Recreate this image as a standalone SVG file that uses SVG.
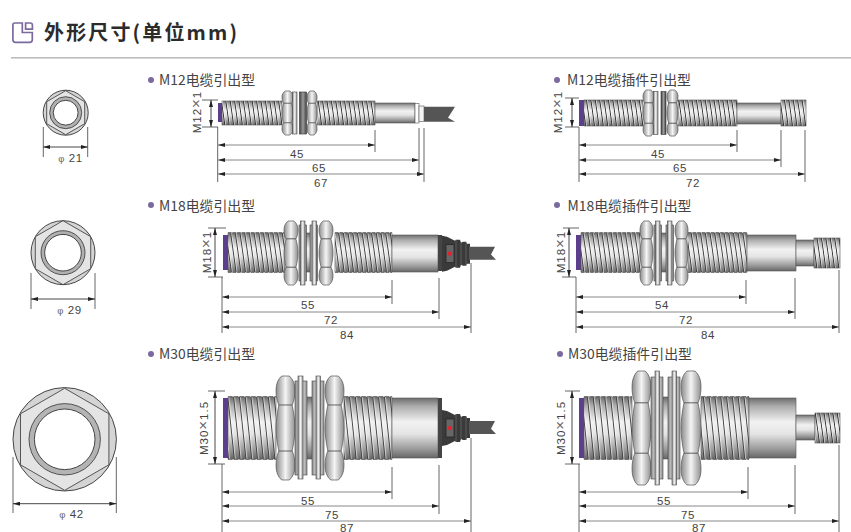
<svg xmlns="http://www.w3.org/2000/svg" xmlns:xlink="http://www.w3.org/1999/xlink" width="851" height="532" viewBox="0 0 851 532">
<style>
text{font-family:"Liberation Sans",Arial,sans-serif;fill:#444}
.cjk{font-family:"Noto Sans CJK SC","Noto Sans",sans-serif}
.title{font-size:20px;font-weight:700;fill:#2b2b2b;letter-spacing:2.15px}
.sub{font-size:13.9px;fill:#444}
.dimt{font-size:11.5px;text-anchor:middle;letter-spacing:.6px}
.rot{font-size:11.5px;text-anchor:middle;letter-spacing:1px}
.x{font-size:15px;fill:#666}
.ph{font-size:9.5px;fill:#666}
.bul{fill:#7b6aa0}
.pur{fill:#5b3f8c}
.m{fill:url(#metal);stroke:#555;stroke-width:.6}
.w{fill:url(#hm);stroke:#444;stroke-width:.6}
.wd{fill:url(#hd);stroke:#333;stroke-width:.6}
.t4{fill:url(#p4)}
.t5{fill:url(#p5)}
.t6{fill:url(#p6)}
.b{stroke:#777;stroke-width:1.4;stroke-dasharray:3.4 1.2;fill:none}
.dim{stroke:#888;stroke-width:1;fill:none;marker-start:url(#ah);marker-end:url(#ah)}
.ext{stroke:#555;stroke-width:.9;fill:none}
.vdim{stroke:#333;stroke-width:.9;fill:none;marker-start:url(#ah);marker-end:url(#ah)}
.lobe{fill:url(#hm);stroke:#555;stroke-width:.7;vector-effect:non-scaling-stroke}
</style>
<defs>
<linearGradient id="metal" x1="0" y1="0" x2="0" y2="1"><stop offset="0" stop-color="#6e6e6e"/><stop offset=".14" stop-color="#adadad"/><stop offset=".4" stop-color="#f2f2f2"/><stop offset=".6" stop-color="#e4e4e4"/><stop offset=".86" stop-color="#979797"/><stop offset="1" stop-color="#666"/></linearGradient>
<linearGradient id="hm"><stop offset="0" stop-color="#8a8a8a"/><stop offset=".5" stop-color="#f5f5f5"/><stop offset="1" stop-color="#8f8f8f"/></linearGradient>
<linearGradient id="hd"><stop offset="0" stop-color="#444"/><stop offset=".5" stop-color="#9a9a9a"/><stop offset="1" stop-color="#444"/></linearGradient>
<pattern id="p4" width="4.4" height="40" patternUnits="userSpaceOnUse" patternTransform="skewX(8)"><rect width=".9" height="40" fill="#333"/><rect x=".9" width=".9" height="40" fill="#fff" fill-opacity=".55"/></pattern>
<pattern id="p5" width="4.7" height="60" patternUnits="userSpaceOnUse" patternTransform="skewX(8)"><rect width=".9" height="60" fill="#333"/><rect x=".9" width="1" height="60" fill="#fff" fill-opacity=".55"/></pattern>
<pattern id="p6" width="5.8" height="80" patternUnits="userSpaceOnUse" patternTransform="skewX(6)"><rect width=".9" height="80" fill="#333"/><rect x=".9" width="1.2" height="80" fill="#fff" fill-opacity=".55"/></pattern>
<marker id="ah" viewBox="0 0 7 4" refX="7" refY="2" markerWidth="7" markerHeight="4" markerUnits="userSpaceOnUse" orient="auto-start-reverse"><path d="M0 0L7 2L0 4Z" fill="#222"/></marker>
<g id="nut">
<path class="lobe" d="M3 28C1 24 0 19 0 14C0 8 2 3 6 0H14C18 3 20 8 20 14C20 19 19 24 17 28Z"/>
<path class="lobe" d="M3 72C1 76 0 81 0 86C0 92 2 97 6 100H14C18 97 20 92 20 86C20 81 19 76 17 72Z"/>
<path class="lobe" d="M3 28H17C19 36 20 44 20 50C20 56 19 64 17 72H3C1 64 0 56 0 50C0 44 1 36 3 28Z"/>
</g>
<g id="gland">
<path d="M0 -18L5 -17L13 -13L14 -14L18 -14L19 -11L21 -12L24 -12L25 -10L28 -10V10L25 10L24 12L21 12L19 11L18 14L14 14L13 13L5 17L0 18Z" fill="#3a3a3a"/>
<path d="M14 -14V14M19 -11V11M24 -12V12" stroke="#777" stroke-width=".6"/>
<path d="M27 -7H53L49 .7L54 6H27Z" fill="#555"/>
<rect x="4" y="-9" width="8" height="18" fill="#666" stroke="#222" stroke-width=".7"/>
<circle cx="7.7" r="2.1" fill="#e8202a"/>
</g>
</defs>
<rect width="851" height="532" fill="#fff"/>

<g id="header">
<path d="M14.8 23H22.3V32.5H32.3V39.8Q32.3 42.4 29.7 42.4H15.6Q12.9 42.4 12.9 39.8V25Q12.9 23 14.8 23ZM25.6 23H30.2Q32.4 23 32.4 25.2V29.2H25.6Z" fill="none" stroke="#7b6aa0" stroke-width="1.7"/>
<text class="title cjk" x="44" y="40">外形尺寸(单位mm)</text>
<rect x="11" y="57" width="840" height="1.6" fill="#bdbdbd"/>
</g>

<g id="end-21">
<circle cx="65.7" cy="112.7" r="22.5" fill="#d4d4d4" stroke="#333" stroke-width=".9"/>
<polygon points="65.7,90.7 84.7,101.7 84.7,123.7 65.7,134.7 46.7,123.7 46.7,101.7" fill="#e4e4e4" stroke="#333" stroke-width=".8"/>
<circle cx="65.7" cy="112.7" r="16" fill="#b0b0b0" stroke="#333" stroke-width=".8"/>
<circle cx="65.7" cy="112.7" r="12.4" fill="#fff" stroke="#333" stroke-width=".9"/>
<path class="ext" d="M43.3 127V157M87.7 127V157"/>
<path class="vdim" d="M43.3 147H87.7"/>
<text class="dimt" x="70.500" y="162"><tspan class="ph">φ</tspan> 21</text>
</g>
<g id="end-29">
<circle cx="63" cy="252.7" r="32" fill="#d4d4d4" stroke="#333" stroke-width=".9"/>
<polygon points="63,220.7 90.7,236.7 90.7,268.7 63,284.7 35.3,268.7 35.3,236.7" fill="#e4e4e4" stroke="#333" stroke-width=".8"/>
<circle cx="63" cy="252.7" r="22" fill="#b0b0b0" stroke="#333" stroke-width=".8"/>
<circle cx="63" cy="252.7" r="18.3" fill="#fff" stroke="#333" stroke-width=".9"/>
<path class="ext" d="M31 273V309M95 273V309"/>
<path class="vdim" d="M31 299H95"/>
<text class="dimt" x="69.500" y="314"><tspan class="ph">φ</tspan> 29</text>
</g>
<g id="end-42">
<circle cx="64.7" cy="439.3" r="51.7" fill="#d4d4d4" stroke="#333" stroke-width=".9"/>
<polygon points="64.7,388.3 108.9,413.8 108.9,464.8 64.7,490.3 20.5,464.8 20.5,413.8" fill="#e4e4e4" stroke="#333" stroke-width=".8"/>
<circle cx="64.7" cy="439.3" r="35.7" fill="#b4b4b4" stroke="#333" stroke-width=".8"/>
<circle cx="64.7" cy="439.3" r="30.3" fill="#fff" stroke="#333" stroke-width=".9"/>
<path class="ext" d="M13 457V513M116.3 457V513"/>
<path class="vdim" d="M13 503.7H116.3"/>
<text class="dimt" x="71.500" y="518"><tspan class="ph">φ</tspan> 42</text>
</g>

<g id="m12-cable">
<circle class="bul" cx="151" cy="80" r="3"/>
<text class="sub cjk" x="159" y="85">M12电缆引出型</text>
<rect class="pur" x="218" y="103" width="4" height="19"/>
<rect class="m" x="222" y="101" width="60" height="24"/><rect class="t4" x="222" y="101" width="60" height="24"/>
<rect class="m" x="317" y="101" width="58" height="24"/><rect class="t4" x="317" y="101" width="58" height="24"/>
<rect class="m" x="375" y="103" width="40" height="20"/>
<rect x="415" y="103.5" width="4" height="19.5" fill="#fff" stroke="#555" stroke-width=".6"/>
<rect x="419" y="106" width="5" height="15.5" fill="#f4f4f4" stroke="#555" stroke-width=".6"/>
<path d="M424 106.7H455L448 117.7L455 121.7H424Z" fill="#555"/>
<use href="#nut" transform="translate(282 91) scale(.55 .44)"/>
<rect class="w" x="292.500" y="92" width="4.500" height="42"/>
<rect class="wd" x="299.500" y="92" width="7" height="42"/>
<use href="#nut" transform="translate(307 91) scale(.5 .44)"/>
</g>
<g id="m12-plug">
<circle class="bul" cx="557" cy="80" r="3"/>
<text class="sub cjk" x="567" y="85">M12电缆插件引出型</text>
<rect class="pur" x="579" y="100" width="5" height="26"/>
<rect class="m" x="584" y="100" width="59" height="26"/><rect class="t4" x="584" y="100" width="59" height="26"/>
<rect class="m" x="678" y="100" width="59" height="26"/><rect class="t4" x="678" y="100" width="59" height="26"/>
<rect class="m" x="737" y="103" width="44" height="21"/>
<rect class="m" x="781" y="100" width="25" height="26"/><rect class="t4" x="781" y="100" width="25" height="26"/>
<use href="#nut" transform="translate(643 90) scale(.55 .46)"/>
<rect class="w" x="653.500" y="91.500" width="4.500" height="43"/>
<rect class="wd" x="661" y="91.500" width="5" height="43"/>
<use href="#nut" transform="translate(667 90) scale(.55 .46)"/>
</g>
<g id="m18-cable">
<circle class="bul" cx="151" cy="205" r="3"/>
<text class="sub cjk" x="159" y="211">M18电缆引出型</text>
<rect class="pur" x="223" y="235" width="5" height="35"/>
<rect class="m" x="228" y="233" width="57" height="39"/><rect class="t5" x="228" y="233" width="57" height="39"/>
<rect class="m" x="305" y="233" width="6" height="39"/>
<rect class="m" x="335" y="233" width="57" height="39"/><rect class="t5" x="335" y="233" width="57" height="39"/>
<path class="b" d="M228 232.800H285M335 232.800H392M228 272.200H285M335 272.200H392"/>
<rect class="m" x="392" y="235" width="46" height="37"/>
<rect x="438" y="235" width="4" height="36" fill="#444"/>
<use href="#gland" transform="translate(442 253.700)"/>
<use href="#nut" transform="translate(284 221) scale(.7 .64)"/>
<rect class="w" x="299" y="225" width="7.500" height="56"/><rect class="w" x="300.500" y="221" width="4.500" height="64"/>
<rect class="w" x="310" y="225" width="7.500" height="56"/><rect class="w" x="312" y="221" width="4.500" height="64"/>
<use href="#nut" transform="translate(319 221) scale(.7 .64)"/>
</g>
<g id="m18-plug">
<circle class="bul" cx="557" cy="205" r="3"/>
<text class="sub cjk" x="567.500" y="211">M18电缆插件引出型</text>
<rect class="pur" x="576" y="235" width="5" height="35"/>
<rect class="m" x="581" y="233" width="59" height="39"/><rect class="t5" x="581" y="233" width="59" height="39"/>
<rect class="m" x="660" y="233" width="7" height="39"/>
<rect class="m" x="688" y="233" width="59" height="39"/><rect class="t5" x="688" y="233" width="59" height="39"/>
<path class="b" d="M581 232.800H640M688 232.800H747M581 272.200H640M688 272.200H747"/>
<rect class="m" x="747" y="235" width="49" height="36"/>
<rect class="m" x="796" y="240" width="18" height="26"/>
<rect class="m" x="814" y="238" width="26" height="30"/><rect class="t4" x="814" y="238" width="26" height="30"/>
<use href="#nut" transform="translate(640 221) scale(.65 .64)"/>
<rect class="w" x="654" y="225" width="7.500" height="56"/><rect class="w" x="655.500" y="221" width="4.500" height="64"/>
<rect class="w" x="666" y="225" width="7.500" height="56"/><rect class="w" x="667.500" y="221" width="4.500" height="64"/>
<use href="#nut" transform="translate(675 221) scale(.65 .64)"/>
</g>
<g id="m30-cable">
<circle class="bul" cx="151" cy="354" r="3"/>
<text class="sub cjk" x="159" y="359">M30电缆引出型</text>
<rect class="pur" x="223" y="398" width="5" height="60"/>
<rect class="m" x="228" y="397" width="48" height="62"/><rect class="t6" x="228" y="397" width="48" height="62"/>
<rect class="m" x="306" y="397" width="7" height="62"/>
<rect class="m" x="344" y="397" width="48" height="62"/><rect class="t6" x="344" y="397" width="48" height="62"/>
<path class="b" style="stroke-dasharray:4.400 1.400" d="M228 396.600H276M344 396.600H392M228 459.400H276M344 459.400H392"/>
<rect class="m" x="392" y="398" width="46" height="60"/>
<rect x="438" y="398" width="4" height="60" fill="#444"/>
<use href="#gland" transform="translate(442 428)"/>
<use href="#nut" transform="translate(276 376) scale(.95 1.04)"/>
<rect class="w" x="295" y="381" width="12" height="94"/><rect class="w" x="298" y="376" width="5" height="103"/>
<rect class="w" x="312" y="381" width="12" height="94"/><rect class="w" x="316" y="376" width="4.500" height="103"/>
<use href="#nut" transform="translate(325 376) scale(.95 1.04)"/>
</g>
<g id="m30-plug">
<circle class="bul" cx="560" cy="354" r="3"/>
<text class="sub cjk" x="568" y="359">M30电缆插件引出型</text>
<rect class="pur" x="579" y="398" width="5" height="60"/>
<rect class="m" x="584" y="397" width="48" height="62"/><rect class="t6" x="584" y="397" width="48" height="62"/>
<rect class="m" x="662" y="397" width="7" height="62"/>
<rect class="m" x="701" y="397" width="48" height="62"/><rect class="t6" x="701" y="397" width="48" height="62"/>
<path class="b" style="stroke-dasharray:4.400 1.400" d="M584 396.600H632M701 396.600H749M584 459.400H632M701 459.400H749"/>
<rect class="m" x="749" y="398" width="47" height="60"/>
<rect class="m" x="796" y="415" width="19" height="25"/>
<rect class="m" x="815" y="413" width="25" height="30"/><rect class="t4" x="815" y="413" width="25" height="30"/>
<use href="#nut" transform="translate(632 371) scale(.95 1.14)"/>
<rect class="w" x="651" y="377" width="12" height="102"/><rect class="w" x="655" y="371" width="4.500" height="114"/>
<rect class="w" x="668" y="377" width="12" height="102"/><rect class="w" x="672" y="371" width="4.500" height="114"/>
<use href="#nut" transform="translate(681 371) scale(1 1.14)"/>
</g>

<g id="connectors">
<path class="ext" d="M202 100H218M202 127H218M217.700 127V182M375 130V152M419 128V176M424 128V182"/>
<path class="vdim" d="M211 100V127"/>
<path class="dim" d="M218 145H375"/><path class="dim" d="M218 160H419"/><path class="dim" d="M218 174H424"/>
<path class="ext" d="M565 98H579M565 127H579M579 127V182M737 130V152M781 130V167M805 130V182"/>
<path class="vdim" d="M572 98V127"/>
<path class="dim" d="M579 145H737"/><path class="dim" d="M579 160H781"/><path class="dim" d="M579 174H805"/>
<path class="ext" d="M208 228H226M208 277H223M222 277V333M392 280V304M439 278V319M471 263V333"/>
<path class="vdim" d="M215 228V277"/>
<path class="dim" d="M222 297H392"/><path class="dim" d="M222 312H439"/><path class="dim" d="M222 327H471"/>
<path class="ext" d="M563 228H579M562 277H576M576 277V333M746 280V304M795 278V319M839 270V333"/>
<path class="vdim" d="M569 228V277"/>
<path class="dim" d="M576 297H746"/><path class="dim" d="M576 312H795"/><path class="dim" d="M576 327H839"/>
<path class="ext" d="M208 391H225M208 464H225M222 464V532M392 467V499M439 465V514M471 438V532"/>
<path class="vdim" d="M215 391V464"/>
<path class="dim" d="M222 492H392"/><path class="dim" d="M222 506H439"/><path class="dim" d="M222 521H471"/>
<path class="ext" d="M565 391H580M565 464H580M579 464V532M748 467V499M795 465V514M839 445V532"/>
<path class="vdim" d="M572 391V464"/>
<path class="dim" d="M579 492H748"/><path class="dim" d="M579 506H795"/><path class="dim" d="M579 521H839"/>
</g>
<g id="labels">
<text class="rot" transform="translate(201 112) rotate(-90)">M12<tspan class="x">×</tspan>1</text>
<text class="dimt" x="297" y="158">45</text><text class="dimt" x="319" y="172">65</text><text class="dimt" x="321" y="187">67</text>
<text class="rot" transform="translate(562 112) rotate(-90)">M12<tspan class="x">×</tspan>1</text>
<text class="dimt" x="658" y="158">45</text><text class="dimt" x="680" y="172">65</text><text class="dimt" x="693" y="187">72</text>
<text class="rot" transform="translate(211 252) rotate(-90)">M18<tspan class="x">×</tspan>1</text>
<text class="dimt" x="308" y="309">55</text><text class="dimt" x="331" y="324">72</text><text class="dimt" x="347" y="339">84</text>
<text class="rot" transform="translate(565 252) rotate(-90)">M18<tspan class="x">×</tspan>1</text>
<text class="dimt" x="662" y="309">54</text><text class="dimt" x="686" y="324">72</text><text class="dimt" x="708" y="339">84</text>
<text class="rot" transform="translate(208 428) rotate(-90)">M30<tspan class="x">×</tspan>1.5</text>
<text class="dimt" x="308" y="505">55</text><text class="dimt" x="332" y="519">75</text><text class="dimt" x="347" y="531.500">87</text>
<text class="rot" transform="translate(565 428) rotate(-90)">M30<tspan class="x">×</tspan>1.5</text>
<text class="dimt" x="664" y="505">55</text><text class="dimt" x="688" y="519">75</text><text class="dimt" x="699" y="531.500">87</text>
</g>
</svg>
